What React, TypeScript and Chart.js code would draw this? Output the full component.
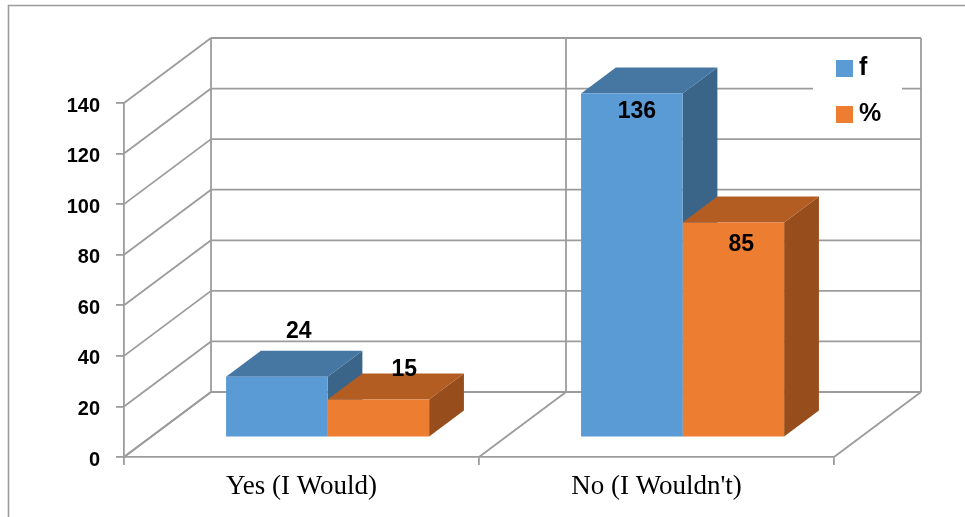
import React, { useEffect, useRef } from "react";
import { Chart, registerables } from "chart.js";

Chart.register(...registerables);

// ---- data ----
const categories = ["Yes (I Would)", "No (I Wouldn't)"];
const seriesNames = ["f", "%"];
const fValues = [24, 136];
const pctValues = [15, 85];
const yMax = 140;
const yStep = 20;

// ---- styling ----
const FRONT = ["#5B9BD5", "#ED7D31"];
const TOP = ["#4676A2", "#B35D22"];
const SIDE = ["#3A6488", "#974E1C"];
const GRID = "#9C9C9C";
const GRID_W = 1.8;
// offset from the front plane to the back wall
const DEPTH = { x: 87, y: -65 };
// bars start 30% into the box and are 40% of its depth
const BAR_FRONT = 0.3;
const BAR_DEPTH = 0.4;
// value label placement relative to the top-centre of each bar's front face
const labelOffsets = [
  [[22, -45], [5, 18]],
  [[26, -30], [8, 22]],
];

const line = (ctx: CanvasRenderingContext2D, x1: number, y1: number, x2: number, y2: number) => {
  ctx.beginPath();
  ctx.moveTo(x1, y1);
  ctx.lineTo(x2, y2);
  ctx.stroke();
};

const poly = (ctx: CanvasRenderingContext2D, pts: number[][], fill: string) => {
  ctx.beginPath();
  ctx.moveTo(pts[0][0], pts[0][1]);
  for (let i = 1; i < pts.length; i++) ctx.lineTo(pts[i][0], pts[i][1]);
  ctx.closePath();
  ctx.fillStyle = fill;
  ctx.fill();
};

const box3d = {
  id: "box3d",
  beforeDraw(chart: any) {
    const { ctx, width, height } = chart;
    ctx.save();
    ctx.fillStyle = "#fff";
    ctx.fillRect(0, 0, width, height);
    ctx.restore();
  },
  beforeDatasetsDraw(chart: any) {
    const { ctx, chartArea: a, scales } = chart;
    const xs = scales.x;
    const ys = scales.y;
    ctx.save();
    ctx.strokeStyle = GRID;
    ctx.lineWidth = GRID_W;
    // side wall diagonals and back wall gridlines
    for (let v = 0; v <= yMax; v += yStep) {
      const py = ys.getPixelForValue(v);
      line(ctx, a.left, py, a.left + DEPTH.x, py + DEPTH.y);
      line(ctx, a.left + DEPTH.x, py + DEPTH.y, a.right + DEPTH.x, py + DEPTH.y);
    }
    // floor diagonals and back wall verticals at category boundaries
    const mid = (xs.getPixelForValue(0) + xs.getPixelForValue(1)) / 2;
    const top = ys.getPixelForValue(yMax);
    const bottom = ys.getPixelForValue(0);
    for (const bx of [a.left, mid, a.right]) {
      line(ctx, bx, bottom, bx + DEPTH.x, bottom + DEPTH.y);
      line(ctx, bx + DEPTH.x, top + DEPTH.y, bx + DEPTH.x, bottom + DEPTH.y);
    }

    // top and side faces of every bar
    const fx = DEPTH.x * BAR_FRONT;
    const fy = DEPTH.y * BAR_FRONT;
    const dx = DEPTH.x * BAR_DEPTH;
    const dy = DEPTH.y * BAR_DEPTH;
    chart.data.datasets.forEach((_ds: any, i: number) => {
      const meta = chart.getDatasetMeta(i);
      meta.data.forEach((bar: any) => {
        const { x, y, base, width } = bar.getProps(["x", "y", "base", "width"], true);
        const l = x - width / 2 + fx;
        const r = x + width / 2 + fx;
        const t = y + fy;
        const b = base + fy;
        poly(ctx, [[r, t], [r + dx, t + dy], [r + dx, b + dy], [r, b]], SIDE[i]);
        poly(ctx, [[l, t], [r, t], [r + dx, t + dy], [l + dx, t + dy]], TOP[i]);
      });
    });
    ctx.restore();
    // front faces are drawn by the bar controller, pushed into the box
    ctx.save();
    ctx.translate(fx, fy);
  },
  afterDatasetsDraw(chart: any) {
    const { ctx } = chart;
    ctx.restore();
    const fx = DEPTH.x * BAR_FRONT;
    const fy = DEPTH.y * BAR_FRONT;
    ctx.save();
    ctx.fillStyle = "#000";
    ctx.font = "bold 23px 'Liberation Sans', Arial, sans-serif";
    ctx.textAlign = "center";
    ctx.textBaseline = "middle";
    chart.data.datasets.forEach((ds: any, i: number) => {
      const meta = chart.getDatasetMeta(i);
      meta.data.forEach((bar: any, j: number) => {
        const { x, y } = bar.getProps(["x", "y"], true);
        const [ox, oy] = labelOffsets[i][j];
        ctx.fillText(String(ds.data[j]), x + fx + ox, y + fy + oy);
      });
    });
    ctx.restore();
  },
  afterDraw(chart: any) {
    const { ctx, width, height } = chart;
    ctx.save();
    // legend backdrop and entries
    ctx.fillStyle = "#fff";
    ctx.fillRect(813, 48, 89, 84);
    ctx.font = "bold 25px 'Liberation Sans', Arial, sans-serif";
    ctx.textAlign = "left";
    ctx.textBaseline = "middle";
    chart.data.datasets.forEach((ds: any, i: number) => {
      const top = 60 + i * 46;
      ctx.fillStyle = FRONT[i];
      ctx.fillRect(836, top, 17, 17);
      ctx.fillStyle = "#000";
      ctx.fillText(ds.label, 859, top + 8);
    });
    // outer frame (top and left edges)
    ctx.strokeStyle = GRID;
    ctx.lineWidth = 1.6;
    ctx.beginPath();
    ctx.moveTo(width, 5.5);
    ctx.lineTo(8.5, 5.5);
    ctx.lineTo(8.5, height);
    ctx.stroke();
    ctx.restore();
  },
};

export default function App() {
  const canvasRef = useRef<HTMLCanvasElement | null>(null);

  useEffect(() => {
    if (!canvasRef.current) return;
    const chart = new Chart(canvasRef.current, {
      type: "bar",
      data: {
        labels: categories,
        datasets: [
          { label: seriesNames[0], data: fValues, backgroundColor: FRONT[0], borderWidth: 0 },
          { label: seriesNames[1], data: pctValues, backgroundColor: FRONT[1], borderWidth: 0 },
        ],
      },
      options: {
        responsive: false,
        animation: false,
        devicePixelRatio: 1,
        layout: { padding: { top: 103, right: 131, bottom: 0, left: 0 } },
        datasets: { bar: { categoryPercentage: 0.572, barPercentage: 1, clip: false as any } },
        plugins: {
          legend: { display: false },
          title: { display: false },
          tooltip: { enabled: false },
        },
        scales: {
          x: {
            afterFit: (s: any) => {
              s.height = 60;
            },
            grid: {
              drawOnChartArea: false,
              drawTicks: true,
              tickLength: 8,
              color: GRID,
              lineWidth: GRID_W,
            },
            border: { display: true, color: GRID, width: GRID_W },
            ticks: {
              color: "#000",
              padding: 6,
              font: { family: "'Liberation Serif', 'Times New Roman', serif", size: 27 },
            },
          },
          y: {
            min: 0,
            max: yMax,
            afterFit: (s: any) => {
              s.width = 124;
            },
            grid: {
              drawOnChartArea: false,
              drawTicks: true,
              tickLength: 8,
              color: GRID,
              lineWidth: GRID_W,
            },
            border: { display: true, color: GRID, width: GRID_W },
            ticks: {
              stepSize: yStep,
              color: "#000",
              padding: 16,
              labelOffset: 3,
              font: { family: "'Liberation Sans', Arial, sans-serif", size: 20, weight: "bold" },
            },
          },
        },
      },
      plugins: [box3d],
    });
    return () => chart.destroy();
  }, []);

  return (
    <div style={{ position: "absolute", left: 0, top: 0, width: 965, height: 517 }}>
      <canvas ref={canvasRef} width={965} height={517} />
    </div>
  );
}
